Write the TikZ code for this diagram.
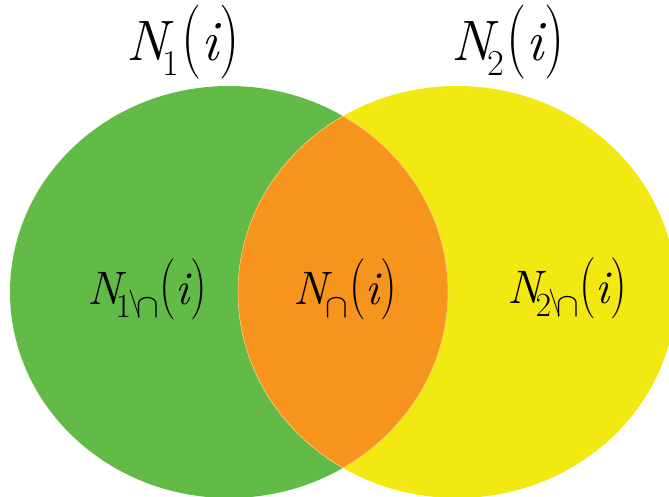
\RequirePackage{fix-cm}
\documentclass[tikz,border=0pt]{standalone}
\usepackage{graphicx}
\definecolor{vgreen}{HTML}{62BB47}
\definecolor{vyellow}{HTML}{F2E912}
\definecolor{vorange}{HTML}{F7941E}
\newcommand{\VN}[4]{{\itshape N}\kern#4em\raisebox{-#3em}{\scalebox{#2}{#1}}\kern0.03em\scalebox{1}[1.3]{(}{\itshape i}\kern0.02em\scalebox{1}[1.3]{)}}
\newcommand{\capsym}{\ensuremath{\cap}}
\newcommand{\bsl}{\scalebox{0.75}[0.8]{\raisebox{0.25em}{\ensuremath{\backslash}}}}
\tikzset{
  lbl/.style={inner sep=0pt, outer sep=0pt, anchor=base west, text=black},
  toplbl/.style={lbl, font=\fontsize{57}{60}\selectfont},
  midlbl/.style={lbl, font=\fontsize{47}{50}\selectfont},
  edge/.style={draw=white!55!vorange, line width=0.5pt}
}
\begin{document}
\begin{tikzpicture}[x=1pt,y=1pt]
\useasboundingbox (0,0) rectangle (669,-497);
\fill[vgreen] (229,-292) ellipse [x radius=219, y radius=206];
\fill[vyellow] (457,-292) ellipse [x radius=219, y radius=206];
\begin{scope}
  \clip (229,-292) ellipse [x radius=219, y radius=206];
  \fill[vorange] (457,-292) ellipse [x radius=219, y radius=206];
  \draw[edge] (457,-292) ellipse [x radius=219, y radius=206];
\end{scope}
\begin{scope}
  \clip (457,-292) ellipse [x radius=219, y radius=206];
  \draw[edge] (229,-292) ellipse [x radius=219, y radius=206];
\end{scope}
\node[toplbl] (t1) at (126,-61) {\VN{1}{0.64}{0.25}{-0.08}};
\node[toplbl] (t2) at (451,-61) {\VN{2}{0.64}{0.25}{-0.08}};
\node[midlbl] (m1) at (87,-304) {\VN{1\kern-0.08em\bsl\kern-0.12em\capsym\kern-0.05em}{0.72}{0.28}{-0.12}};
\node[midlbl] (m0) at (293,-304) {\VN{\capsym}{0.72}{0.28}{-0.04}};
\node[midlbl] (m2) at (507,-303) {\VN{2\kern-0.08em\bsl\kern-0.12em\capsym\kern-0.05em}{0.72}{0.28}{-0.12}};
\end{tikzpicture}
\end{document}
